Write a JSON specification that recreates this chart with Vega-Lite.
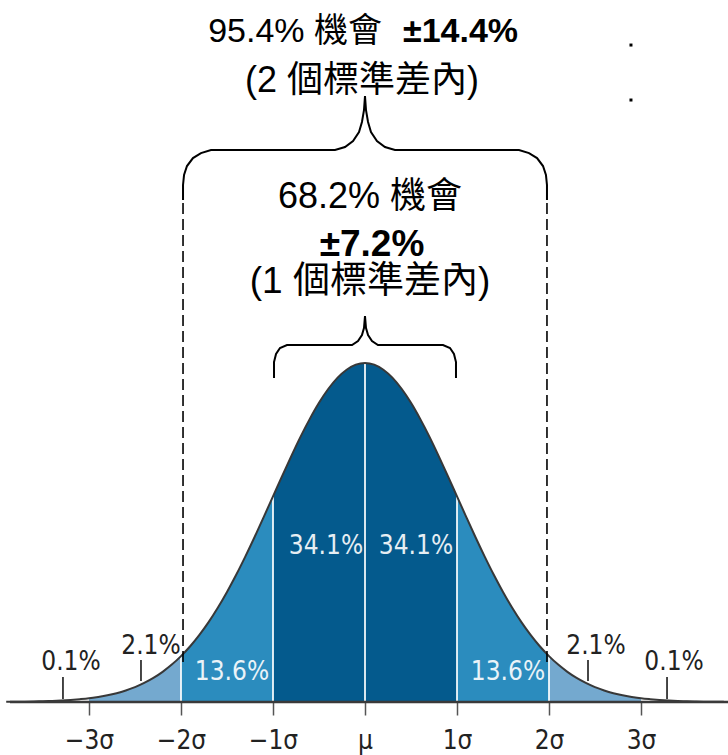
{
  "$schema": "https://vega.github.io/schema/vega-lite/v6.json",
  "width": 728,
  "height": 702,
  "autosize": "none",
  "padding": {"left": 0, "right": 0, "top": 0, "bottom": 53},
  "background": "white",
  "config": {"view": {"stroke": null}},
  "datasets": {
    "curve": [
      {"x": -3.9, "d": 0.2}, {"x": -3.8, "d": 0.3}, {"x": -3.7, "d": 0.4}, {"x": -3.6, "d": 0.6}, {"x": -3.5, "d": 0.9},
      {"x": -3.4, "d": 1.2}, {"x": -3.3, "d": 1.7}, {"x": -3.2, "d": 2.4}, {"x": -3.1, "d": 3.3}, {"x": -3.0, "d": 4.4},
      {"x": -2.9, "d": 6.0}, {"x": -2.8, "d": 7.9}, {"x": -2.7, "d": 10.4}, {"x": -2.6, "d": 13.6}, {"x": -2.5, "d": 17.5},
      {"x": -2.4, "d": 22.4}, {"x": -2.3, "d": 28.3}, {"x": -2.2, "d": 35.5}, {"x": -2.1, "d": 44.0}, {"x": -2.0, "d": 54.0},
      {"x": -1.9, "d": 65.6}, {"x": -1.8, "d": 79.0}, {"x": -1.7, "d": 94.0}, {"x": -1.6, "d": 110.9}, {"x": -1.5, "d": 129.5},
      {"x": -1.4, "d": 149.7}, {"x": -1.3, "d": 171.4}, {"x": -1.2, "d": 194.2}, {"x": -1.1, "d": 217.9}, {"x": -1.0, "d": 242.0},
      {"x": -0.9, "d": 266.1}, {"x": -0.8, "d": 289.7}, {"x": -0.7, "d": 312.3}, {"x": -0.6, "d": 333.2}, {"x": -0.5, "d": 352.1},
      {"x": -0.4, "d": 368.3}, {"x": -0.3, "d": 381.4}, {"x": -0.2, "d": 391.0}, {"x": -0.1, "d": 397.0}, {"x": 0.0, "d": 398.9},
      {"x": 0.1, "d": 397.0}, {"x": 0.2, "d": 391.0}, {"x": 0.3, "d": 381.4}, {"x": 0.4, "d": 368.3}, {"x": 0.5, "d": 352.1},
      {"x": 0.6, "d": 333.2}, {"x": 0.7, "d": 312.3}, {"x": 0.8, "d": 289.7}, {"x": 0.9, "d": 266.1}, {"x": 1.0, "d": 242.0},
      {"x": 1.1, "d": 217.9}, {"x": 1.2, "d": 194.2}, {"x": 1.3, "d": 171.4}, {"x": 1.4, "d": 149.7}, {"x": 1.5, "d": 129.5},
      {"x": 1.6, "d": 110.9}, {"x": 1.7, "d": 94.0}, {"x": 1.8, "d": 79.0}, {"x": 1.9, "d": 65.6}, {"x": 2.0, "d": 54.0},
      {"x": 2.1, "d": 44.0}, {"x": 2.2, "d": 35.5}, {"x": 2.3, "d": 28.3}, {"x": 2.4, "d": 22.4}, {"x": 2.5, "d": 17.5},
      {"x": 2.6, "d": 13.6}, {"x": 2.7, "d": 10.4}, {"x": 2.8, "d": 7.9}, {"x": 2.9, "d": 6.0}, {"x": 3.0, "d": 4.4},
      {"x": 3.1, "d": 3.3}, {"x": 3.2, "d": 2.4}, {"x": 3.3, "d": 1.7}, {"x": 3.4, "d": 1.2}, {"x": 3.5, "d": 0.9},
      {"x": 3.6, "d": 0.6}, {"x": 3.7, "d": 0.4}, {"x": 3.8, "d": 0.3}, {"x": 3.9, "d": 0.2}
    ],
    "braces": [
      {"brace": "outer", "i": 0, "x": -1.978, "v": 590.7},
      {"brace": "outer", "i": 1, "x": -1.978, "v": 608.4},
      {"brace": "outer", "i": 2, "x": -1.967, "v": 620.1},
      {"brace": "outer", "i": 3, "x": -1.935, "v": 630.7},
      {"brace": "outer", "i": 4, "x": -1.870, "v": 640.1},
      {"brace": "outer", "i": 5, "x": -1.783, "v": 646.0},
      {"brace": "outer", "i": 6, "x": -1.674, "v": 649.6},
      {"brace": "outer", "i": 7, "x": -0.326, "v": 649.6},
      {"brace": "outer", "i": 8, "x": -0.217, "v": 653.1},
      {"brace": "outer", "i": 9, "x": -0.130, "v": 660.2},
      {"brace": "outer", "i": 10, "x": -0.065, "v": 670.7},
      {"brace": "outer", "i": 11, "x": -0.033, "v": 682.5},
      {"brace": "outer", "i": 12, "x": -0.011, "v": 696.6},
      {"brace": "outer", "i": 13, "x": 0.0, "v": 713.1},
      {"brace": "outer", "i": 14, "x": 0.011, "v": 696.6},
      {"brace": "outer", "i": 15, "x": 0.033, "v": 682.5},
      {"brace": "outer", "i": 16, "x": 0.065, "v": 670.7},
      {"brace": "outer", "i": 17, "x": 0.130, "v": 660.2},
      {"brace": "outer", "i": 18, "x": 0.217, "v": 653.1},
      {"brace": "outer", "i": 19, "x": 0.326, "v": 649.6},
      {"brace": "outer", "i": 20, "x": 1.674, "v": 649.6},
      {"brace": "outer", "i": 21, "x": 1.783, "v": 646.0},
      {"brace": "outer", "i": 22, "x": 1.870, "v": 640.1},
      {"brace": "outer", "i": 23, "x": 1.935, "v": 630.7},
      {"brace": "outer", "i": 24, "x": 1.967, "v": 620.1},
      {"brace": "outer", "i": 25, "x": 1.978, "v": 608.4},
      {"brace": "outer", "i": 26, "x": 1.978, "v": 590.7},
      {"brace": "inner", "i": 0, "x": -0.989, "v": 381.3},
      {"brace": "inner", "i": 1, "x": -0.989, "v": 400.1},
      {"brace": "inner", "i": 2, "x": -0.967, "v": 409.5},
      {"brace": "inner", "i": 3, "x": -0.924, "v": 416.6},
      {"brace": "inner", "i": 4, "x": -0.848, "v": 420.1},
      {"brace": "inner", "i": 5, "x": -0.141, "v": 420.1},
      {"brace": "inner", "i": 6, "x": -0.076, "v": 424.8},
      {"brace": "inner", "i": 7, "x": -0.033, "v": 431.9},
      {"brace": "inner", "i": 8, "x": -0.011, "v": 440.1},
      {"brace": "inner", "i": 9, "x": 0.0, "v": 454.2},
      {"brace": "inner", "i": 10, "x": 0.011, "v": 440.1},
      {"brace": "inner", "i": 11, "x": 0.033, "v": 431.9},
      {"brace": "inner", "i": 12, "x": 0.076, "v": 424.8},
      {"brace": "inner", "i": 13, "x": 0.141, "v": 420.1},
      {"brace": "inner", "i": 14, "x": 0.848, "v": 420.1},
      {"brace": "inner", "i": 15, "x": 0.924, "v": 416.6},
      {"brace": "inner", "i": 16, "x": 0.967, "v": 409.5},
      {"brace": "inner", "i": 17, "x": 0.989, "v": 400.1},
      {"brace": "inner", "i": 18, "x": 0.989, "v": 381.3}
    ],
    "dashes": [
      {"x": -1.978, "v1": 47.1, "v2": 590.7},
      {"x": 1.978, "v1": 47.1, "v2": 590.7}
    ],
    "pointers": [
      {"x": -3.283, "v1": 3.5, "v2": 29.4},
      {"x": 3.283, "v1": 3.5, "v2": 29.4},
      {"x": -2.435, "v1": 24.7, "v2": 49.4},
      {"x": 2.424, "v1": 24.7, "v2": 49.4}
    ],
    "whiteLabels": [
      {"x": -0.424, "v": 174.2, "label": "34.1%"},
      {"x": 0.554, "v": 174.2, "label": "34.1%"},
      {"x": -1.446, "v": 25.9, "label": "13.6%"},
      {"x": 1.554, "v": 25.9, "label": "13.6%"}
    ],
    "blackLabels": [
      {"x": -2.326, "v": 56.5, "label": "2.1%"},
      {"x": 2.511, "v": 56.5, "label": "2.1%"},
      {"x": -3.196, "v": 37.7, "label": "0.1%"},
      {"x": 3.359, "v": 37.7, "label": "0.1%"}
    ],
    "titleRight": [
      {"x": 0.185, "v": 776.7, "label": "95.4% 機會"}
    ],
    "titleBoldLeft": [
      {"x": 0.413, "v": 776.7, "label": "±14.4%"}
    ],
    "line2": [
      {"x": -0.033, "v": 717.8, "label": "(2 個標準差內)"}
    ],
    "inner1": [
      {"x": 0.054, "v": 581.3, "label": "68.2% 機會"}
    ],
    "inner3": [
      {"x": 0.054, "v": 481.3, "label": "(1 個標準差內)"}
    ],
    "boldCenter": [
      {"x": 0.076, "v": 524.8, "label": "±7.2%"}
    ],
    "dots": [
      {"x": 2.891, "v": 773.1},
      {"x": 2.891, "v": 708.4}
    ]
  },
  "encoding": {
    "x": {
      "field": "x",
      "type": "quantitative",
      "scale": {"domain": [-3.9674, 3.9457], "nice": false, "zero": false},
      "axis": {
        "title": null,
        "grid": false,
        "domain": false,
        "values": [-3, -2, -1, 0, 1, 2, 3],
        "labelExpr": "datum.value == 0 ? 'μ' : (datum.value < 0 ? '−' + (-datum.value) : '' + datum.value) + 'σ'",
        "tickSize": 13,
        "tickWidth": 1.5,
        "tickColor": "#555555",
        "labelFont": "DejaVu Sans Condensed, DejaVu Sans",
        "labelFontSize": 26,
        "labelColor": "#222222",
        "labelBaseline": "alphabetic",
        "labelPadding": 33,
        "labelFlush": false,
        "labelOverlap": false
      }
    }
  },
  "layer": [
    {
      "data": {"name": "curve"},
      "transform": [{"filter": "datum.x >= -3 && datum.x <= 3"}],
      "mark": {"type": "area", "color": "#74a9cf", "interpolate": "monotone"},
      "encoding": {
        "y": {"field": "d", "type": "quantitative", "scale": {"domain": [0, 826.1], "nice": false, "zero": false}, "axis": null}
      }
    },
    {
      "data": {"name": "curve"},
      "transform": [{"filter": "datum.x >= -2 && datum.x <= 2"}],
      "mark": {"type": "area", "color": "#2b8cbe", "interpolate": "monotone"},
      "encoding": {"y": {"field": "d", "type": "quantitative"}}
    },
    {
      "data": {"name": "curve"},
      "transform": [{"filter": "datum.x >= -1 && datum.x <= 1"}],
      "mark": {"type": "area", "color": "#045a8d", "interpolate": "monotone"},
      "encoding": {"y": {"field": "d", "type": "quantitative"}}
    },
    {
      "data": {"name": "curve"},
      "transform": [{"filter": "datum.x == -2 || datum.x == -1 || datum.x == 0 || datum.x == 1 || datum.x == 2"}],
      "mark": {"type": "rule", "color": "#ffffff", "strokeWidth": 2, "opacity": 0.85},
      "encoding": {"y": {"field": "d", "type": "quantitative"}, "y2": {"datum": 0}}
    },
    {
      "data": {"name": "curve"},
      "mark": {"type": "line", "color": "#383838", "strokeWidth": 2, "interpolate": "monotone"},
      "encoding": {"y": {"field": "d", "type": "quantitative"}}
    },
    {
      "data": {"values": [{"x": -3.859, "x2": 3.9457, "v": 0}]},
      "mark": {"type": "rule", "color": "#3a3a3a", "strokeWidth": 2.5},
      "encoding": {"x2": {"field": "x2"}, "y": {"field": "v", "type": "quantitative"}}
    },
    {
      "data": {"name": "dashes"},
      "mark": {"type": "rule", "color": "#000000", "strokeWidth": 1.6, "strokeDash": [11, 5]},
      "encoding": {"y": {"field": "v1", "type": "quantitative"}, "y2": {"field": "v2"}}
    },
    {
      "data": {"name": "braces"},
      "mark": {"type": "line", "color": "#000000", "strokeWidth": 2, "interpolate": "linear"},
      "encoding": {
        "y": {"field": "v", "type": "quantitative"},
        "detail": {"field": "brace"},
        "order": {"field": "i", "type": "quantitative"}
      }
    },
    {
      "data": {"name": "pointers"},
      "mark": {"type": "rule", "color": "#333333", "strokeWidth": 1.8},
      "encoding": {"y": {"field": "v1", "type": "quantitative"}, "y2": {"field": "v2"}}
    },
    {
      "data": {"name": "whiteLabels"},
      "mark": {"type": "text", "font": "DejaVu Sans Condensed, DejaVu Sans", "fontSize": 26, "color": "#ffffff", "opacity": 0.9, "align": "center", "baseline": "alphabetic"},
      "encoding": {"y": {"field": "v", "type": "quantitative"}, "text": {"field": "label"}}
    },
    {
      "data": {"name": "blackLabels"},
      "mark": {"type": "text", "font": "DejaVu Sans Condensed, DejaVu Sans", "fontSize": 26, "color": "#222222", "align": "center", "baseline": "alphabetic"},
      "encoding": {"y": {"field": "v", "type": "quantitative"}, "text": {"field": "label"}}
    },
    {
      "data": {"name": "titleRight"},
      "mark": {"type": "text", "font": "Liberation Sans, Noto Sans CJK TC", "fontSize": 34, "color": "#000000", "align": "right", "baseline": "alphabetic"},
      "encoding": {"y": {"field": "v", "type": "quantitative"}, "text": {"field": "label"}}
    },
    {
      "data": {"name": "titleBoldLeft"},
      "mark": {"type": "text", "font": "Liberation Sans, Noto Sans CJK TC", "fontSize": 34, "fontWeight": "bold", "color": "#000000", "align": "left", "baseline": "alphabetic"},
      "encoding": {"y": {"field": "v", "type": "quantitative"}, "text": {"field": "label"}}
    },
    {
      "data": {"name": "line2"},
      "mark": {"type": "text", "font": "Liberation Sans, Noto Sans CJK TC", "fontSize": 36, "color": "#000000", "align": "center", "baseline": "alphabetic"},
      "encoding": {"y": {"field": "v", "type": "quantitative"}, "text": {"field": "label"}}
    },
    {
      "data": {"name": "inner1"},
      "mark": {"type": "text", "font": "Liberation Sans, Noto Sans CJK TC", "fontSize": 36, "color": "#000000", "align": "center", "baseline": "alphabetic"},
      "encoding": {"y": {"field": "v", "type": "quantitative"}, "text": {"field": "label"}}
    },
    {
      "data": {"name": "inner3"},
      "mark": {"type": "text", "font": "Liberation Sans, Noto Sans CJK TC", "fontSize": 37, "color": "#000000", "align": "center", "baseline": "alphabetic"},
      "encoding": {"y": {"field": "v", "type": "quantitative"}, "text": {"field": "label"}}
    },
    {
      "data": {"name": "boldCenter"},
      "mark": {"type": "text", "font": "Liberation Sans, Noto Sans CJK TC", "fontSize": 37, "fontWeight": "bold", "color": "#000000", "align": "center", "baseline": "alphabetic"},
      "encoding": {"y": {"field": "v", "type": "quantitative"}, "text": {"field": "label"}}
    },
    {
      "data": {"name": "dots"},
      "mark": {"type": "square", "color": "#000000", "size": 9, "opacity": 1, "filled": true},
      "encoding": {"y": {"field": "v", "type": "quantitative"}}
    }
  ]
}
